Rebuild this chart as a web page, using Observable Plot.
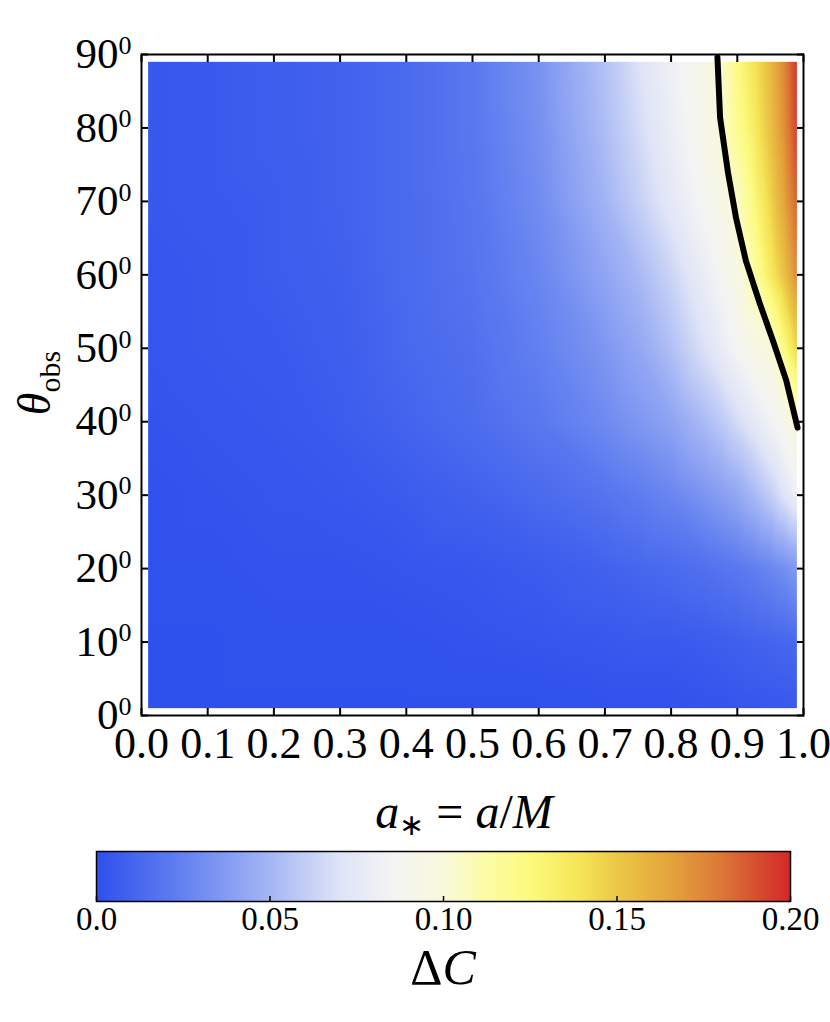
<!DOCTYPE html>
<html><head><meta charset="utf-8">
<script src="https://cdn.jsdelivr.net/npm/d3@7"></script>
<script src="https://cdn.jsdelivr.net/npm/@observablehq/plot@0.6"></script>
<style>
body{margin:0;background:#fff;}
#chart{width:830px;}
svg{display:block;}
</style></head><body><div id="chart"></div>
<script>
// ---- data ----
const spinValues = [0.01,0.1,0.2,0.3,0.4,0.5,0.6,0.7,0.75,0.8,0.85,0.875,0.9,0.925,0.95,0.97,0.99];
const inclinationValues = [1,10,20,30,40,50,60,70,80,89];
const dC_theta1  = [0,0,0,0,0,0,0,0.001,0.001,0.001,0.002,0.002,0.003,0.003,0.004,0.004,0.005];
const dC_theta10 = [0,0,0.001,0.001,0.001,0.002,0.003,0.004,0.005,0.005,0.006,0.007,0.008,0.009,0.010,0.011,0.012];
const dC_theta20 = [0.001,0.001,0.002,0.002,0.003,0.004,0.006,0.009,0.011,0.013,0.016,0.018,0.020,0.023,0.027,0.031,0.036];
const dC_theta30 = [0.001,0.002,0.003,0.004,0.006,0.009,0.013,0.018,0.022,0.027,0.034,0.038,0.043,0.051,0.060,0.070,0.080];
const dC_theta40 = [0.002,0.003,0.004,0.006,0.010,0.014,0.020,0.029,0.035,0.041,0.052,0.058,0.066,0.074,0.083,0.091,0.100];
const dC_theta50 = [0.003,0.004,0.005,0.007,0.012,0.016,0.024,0.035,0.043,0.054,0.069,0.077,0.086,0.094,0.100,0.122,0.145];
const dC_theta60 = [0.003,0.004,0.006,0.008,0.013,0.018,0.027,0.042,0.051,0.063,0.078,0.086,0.095,0.112,0.135,0.152,0.174];
const dC_theta70 = [0.004,0.005,0.006,0.009,0.013,0.019,0.030,0.049,0.061,0.074,0.087,0.094,0.104,0.125,0.145,0.164,0.186];
const dC_theta80 = [0.004,0.005,0.007,0.009,0.013,0.020,0.032,0.053,0.066,0.079,0.091,0.100,0.119,0.134,0.153,0.171,0.194];
const dC_theta89 = [0.004,0.005,0.007,0.009,0.013,0.020,0.033,0.055,0.069,0.081,0.093,0.101,0.123,0.138,0.156,0.174,0.197];
const dCRows = [dC_theta1,dC_theta10,dC_theta20,dC_theta30,dC_theta40,dC_theta50,dC_theta60,dC_theta70,dC_theta80,dC_theta89];

// contour ΔC = 0.1
const contourSpin  = [0.870,0.874,0.886,0.898,0.913,0.934,0.954,0.974,0.991];
const contourTheta = [89.6,81.4,73.9,67.8,61.9,56.1,51.0,45.6,39.2];

// ticks
const xTickValues = [0,0.1,0.2,0.3,0.4,0.5,0.6,0.7,0.8,0.9,1.0];
const xTickLabels = ["0.0","0.1","0.2","0.3","0.4","0.5","0.6","0.7","0.8","0.9","1.0"];
const yTickValues = [0,10,20,30,40,50,60,70,80,90];
const yTickLabels = ["0","10","20","30","40","50","60","70","80","90"];
const cbTickValues = [0,0.05,0.10,0.15,0.20];
const cbTickLabels = ["0.0","0.05","0.10","0.15","0.20"];

// colour map (TemperatureMap-like)
const colorStops  = [0,0.025,0.05,0.07,0.085,0.1,0.112,0.125,0.14,0.15,0.165,0.18,0.2];
const colorValues = ["#2e50ec","#6482f0","#a5b6f5","#dfe4f7","#f3f4f4","#f8f8dc","#fcfca8","#fcfa7d","#f5e455","#ecc846","#e4a53c","#dc7837","#d22828"];

// ---- build ----
const grid = inclinationValues.flatMap((t, i) => spinValues.map((a, j) => ({a, theta: t, dC: dCRows[i][j]})));
const contour = contourSpin.map((a, i) => ({a, theta: contourTheta[i]}));
const colorScale = {type: "linear", domain: colorStops, range: colorValues, interpolate: "rgb", clamp: true};
const FONT = "'Liberation Serif', 'Times New Roman', serif";

const main = Plot.plot({
  width: 830, height: 845,
  marginLeft: 141, marginRight: 27, marginTop: 54, marginBottom: 130,
  x: {domain: [0, 1]},
  y: {domain: [0, 90]},
  color: colorScale,
  style: {fontFamily: FONT, fontSize: "40px", color: "black", background: "white"},
  marks: [
    Plot.raster(grid, {x: "a", y: "theta", fill: "dC", interpolate: "barycentric",
      x1: spinValues[0], x2: spinValues[spinValues.length-1],
      y1: inclinationValues[0], y2: inclinationValues[inclinationValues.length-1]}),
    Plot.line(contour, {x: "a", y: "theta", stroke: "black", strokeWidth: 6}),
    Plot.frame({stroke: "black", strokeWidth: 2}),
    Plot.axisX({anchor: "bottom", ticks: xTickValues, tickSize: -7, strokeWidth: 2, tickFormat: () => "", label: null}),
    Plot.axisX({anchor: "top", ticks: xTickValues, tickSize: -7, strokeWidth: 2, tickFormat: () => "", label: null}),
    Plot.axisY({anchor: "left", ticks: yTickValues, tickSize: -7, strokeWidth: 2, tickFormat: () => "", label: null}),
    Plot.axisY({anchor: "right", ticks: yTickValues, tickSize: -7, strokeWidth: 2, tickFormat: () => "", label: null}),
    Plot.text(xTickValues, {x: d => d, frameAnchor: "bottom", text: (d, i) => xTickLabels[i], lineAnchor: "top", dy: 11, fontSize: 44}),
    Plot.text(yTickValues, {y: d => d, frameAnchor: "left", text: (d, i) => yTickLabels[i], textAnchor: "end", dx: -23, fontSize: 43}),
    Plot.text(yTickValues, {y: d => d, frameAnchor: "left", text: () => "0", textAnchor: "start", dx: -23, dy: -9, fontSize: 26})
  ]
});

const svgMain = d3.select(main.tagName.toLowerCase() === "svg" ? main : main.querySelector("svg"));
// y axis label θ_obs
const yl = svgMain.append("text").attr("transform", "translate(50,383) rotate(-90)")
  .attr("text-anchor", "middle").attr("font-family", FONT).attr("fill", "black");
yl.append("tspan").attr("font-style", "italic").attr("font-size", 46).text("θ");
yl.append("tspan").attr("font-size", 30).attr("dy", 10).text("obs");
// x axis label a_* = a/M
const xl = svgMain.append("text").attr("x", 464).attr("y", 828)
  .attr("text-anchor", "middle").attr("font-family", FONT).attr("fill", "black").attr("font-size", 48);
xl.append("tspan").attr("font-style", "italic").text("a");
xl.append("tspan").attr("font-size", 30).attr("dy", 7).text("∗");
xl.append("tspan").attr("dy", -7).text(" = ");
xl.append("tspan").attr("font-style", "italic").text("a");
xl.append("tspan").text("/");
xl.append("tspan").attr("font-style", "italic").text("M");

const bar = Plot.plot({
  width: 830, height: 177,
  marginLeft: 96, marginRight: 40, marginTop: 6, marginBottom: 121,
  x: {domain: [0, 0.2]},
  y: {domain: [0, 1], axis: null},
  color: colorScale,
  style: {fontFamily: FONT, fontSize: "32px", color: "black", background: "white"},
  marks: [
    Plot.raster({fill: (x, y) => x, x1: 0, x2: 0.2, y1: 0, y2: 1}),
    Plot.frame({stroke: "black", strokeWidth: 1.5}),
    Plot.axisX({anchor: "bottom", ticks: cbTickValues, tickSize: -5, strokeWidth: 1.5, tickFormat: () => "", label: null}),
    Plot.text(cbTickValues, {x: d => d, frameAnchor: "bottom", text: (d, i) => cbTickLabels[i], lineAnchor: "top", dy: 5, fontSize: 33})
  ]
});
const svgBar = d3.select(bar.tagName.toLowerCase() === "svg" ? bar : bar.querySelector("svg"));
const cl = svgBar.append("text").attr("x", 443).attr("y", 139)
  .attr("text-anchor", "middle").attr("font-family", FONT).attr("fill", "black").attr("font-size", 50);
cl.append("tspan").text("Δ");
cl.append("tspan").attr("font-style", "italic").text("C");

document.getElementById("chart").append(main, bar);
</script>
</body></html>
